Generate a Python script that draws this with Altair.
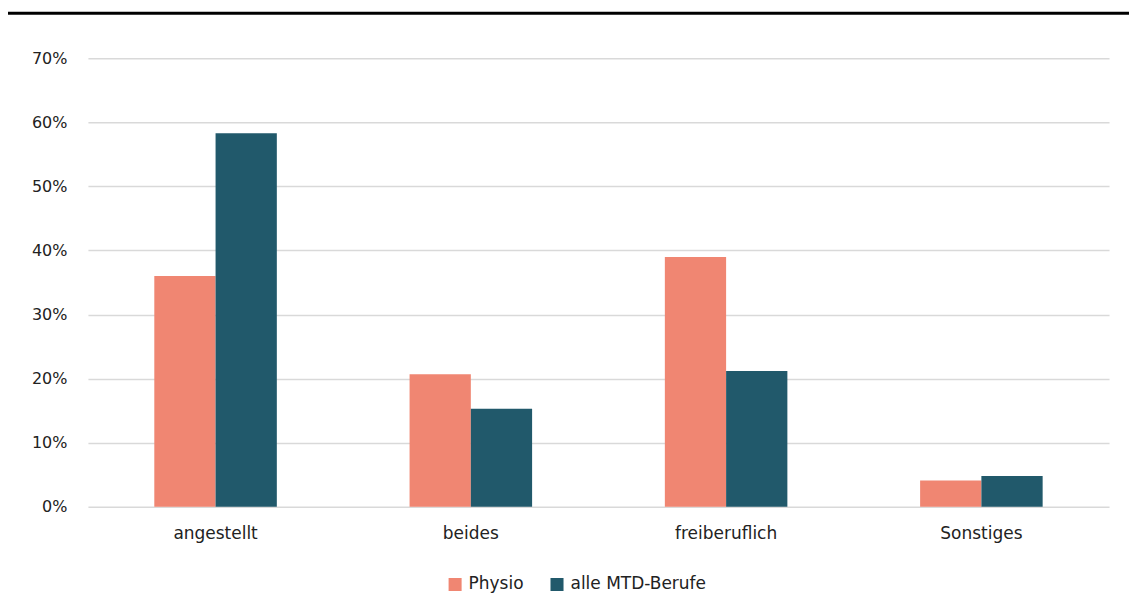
import altair as alt
import pandas as pd

categories = ["angestellt", "beides", "freiberuflich", "Sonstiges"]
series = ["Physio", "alle MTD-Berufe"]
physio = [0.36, 0.207, 0.39, 0.041]
mtd = [0.583, 0.153, 0.212, 0.048]
colors = ["#F08672", "#21596B"]

rows = []
for c, p, m in zip(categories, physio, mtd):
    rows.append({"Kategorie": c, "Gruppe": series[0], "Wert": p})
    rows.append({"Kategorie": c, "Gruppe": series[1], "Wert": m})
df = pd.DataFrame(rows)

FONT = "DejaVu Sans"

bars = alt.Chart(df).mark_bar().encode(
    x=alt.X("Kategorie:N", sort=categories, title=None,
            scale=alt.Scale(paddingInner=0.52, paddingOuter=0.26),
            axis=alt.Axis(labelAngle=0, ticks=False, domain=False, labelPadding=19,
                          labelFontSize=17, labelFont=FONT, labelColor="#222222")),
    xOffset=alt.XOffset("Gruppe:N", sort=series),
    y=alt.Y("Wert:Q", title=None,
            scale=alt.Scale(domain=[0, 0.7]),
            axis=alt.Axis(format=".0%", values=[0, 0.1, 0.2, 0.3, 0.4, 0.5, 0.6, 0.7],
                          ticks=False, domain=False, labelPadding=21,
                          labelFontSize=16, labelFont=FONT, labelColor="#222222",
                          gridColor="#D9D9D9", gridWidth=1.5)),
    color=alt.Color("Gruppe:N", sort=series,
                    scale=alt.Scale(domain=series, range=colors),
                    legend=alt.Legend(title=None, orient="none", legendX=359, legendY=518,
                                      direction="horizontal", symbolType="square",
                                      symbolSize=170, symbolStrokeWidth=0,
                                      labelFontSize=17, labelFont=FONT, labelColor="#222222",
                                      columnPadding=24, symbolOffset=0, labelOffset=5)),
)

topline = alt.Chart(pd.DataFrame({"a": [0]})).mark_rule(color="#000000", strokeWidth=3).encode(
    x=alt.value(-83), x2=alt.value(1042), y=alt.value(-45)
)

chart = alt.layer(topline, bars).properties(
    width=1022, height=449,
    autosize=alt.AutoSizeParams(type="none"),
    padding={"left": 80, "top": 50, "right": 20, "bottom": 100},
).configure(background="white").configure_view(stroke=None)

chart.save("out.html", embed_options={"renderer": "svg", "actions": False})
